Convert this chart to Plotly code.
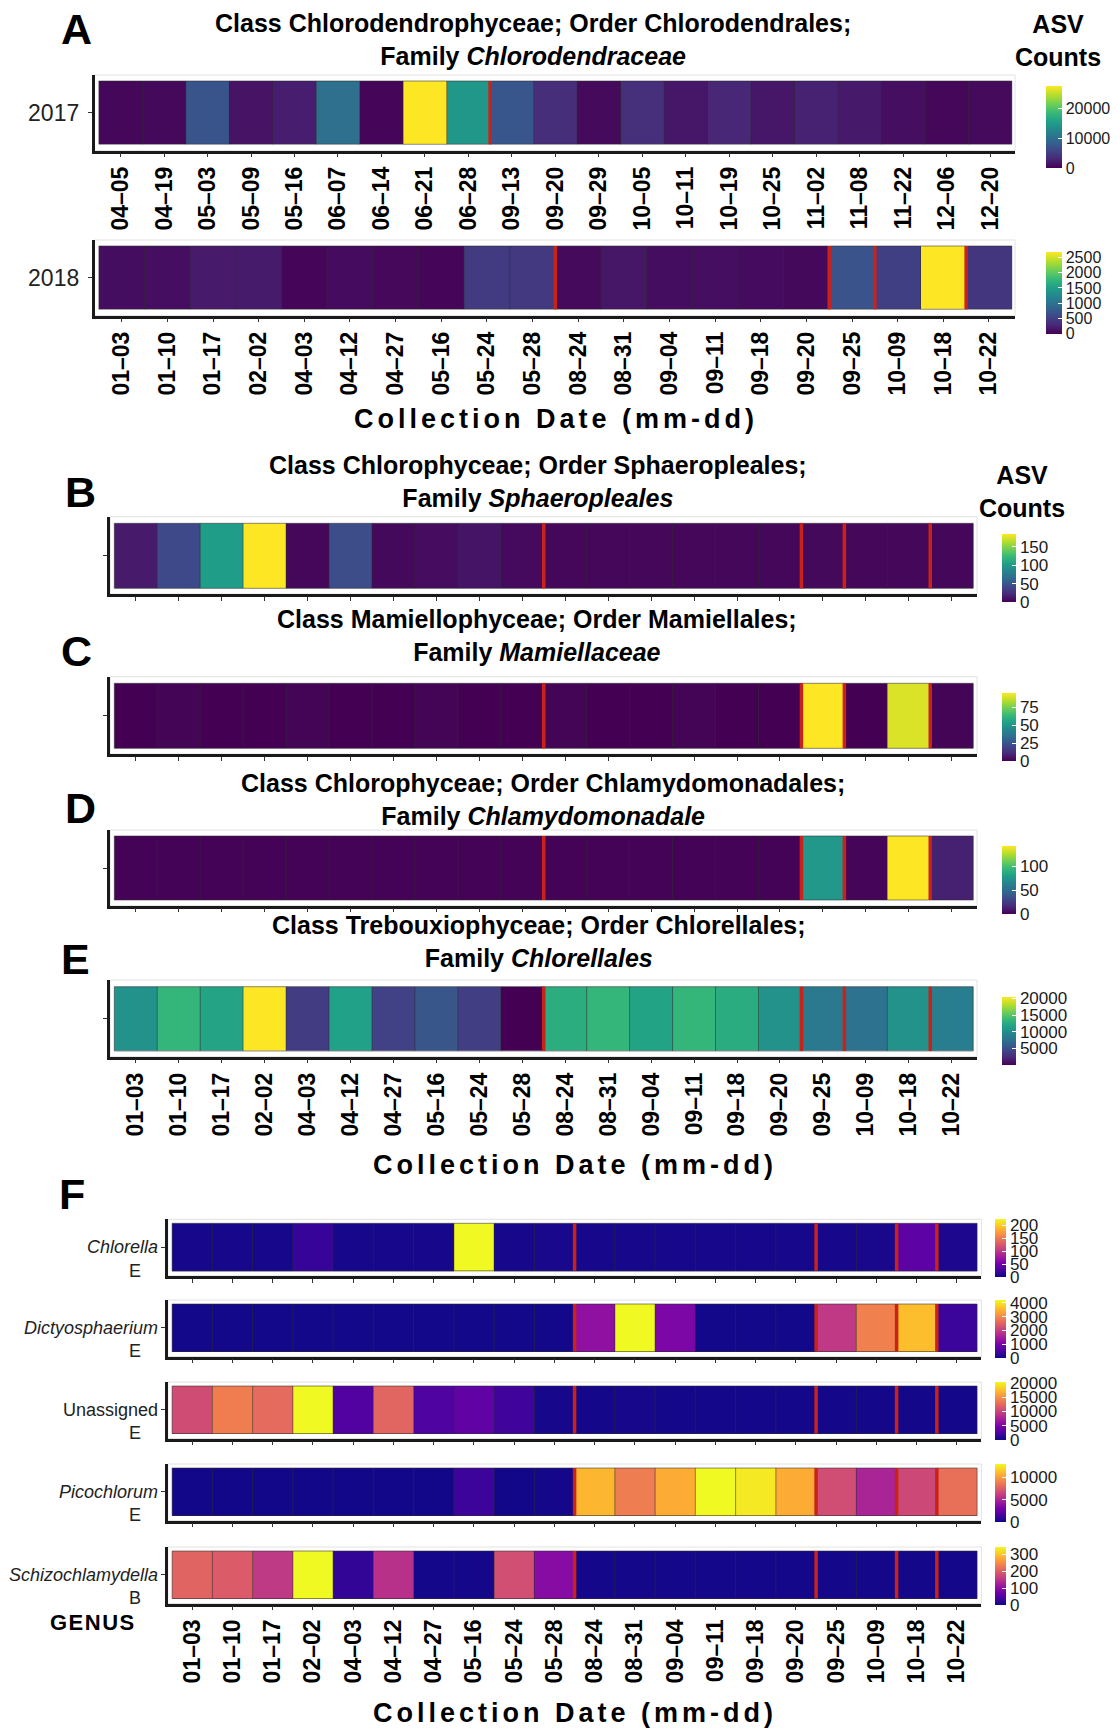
import plotly.graph_objects as go

W, H = 1120, 1730
FONT = "Liberation Sans, Arial, Helvetica, sans-serif"

# ---- sampling dates (mm-dd) ----
dates_2017 = ["04–05", "04–19", "05–03", "05–09", "05–16", "06–07", "06–14",
              "06–21", "06–28", "09–13", "09–20", "09–29", "10–05", "10–11",
              "10–19", "10–25", "11–02", "11–08", "11–22", "12–06", "12–20"]
dates_2018 = ["01–03", "01–10", "01–17", "02–02", "04–03", "04–12", "04–27",
              "05–16", "05–24", "05–28", "08–24", "08–31", "09–04", "09–11",
              "09–18", "09–20", "09–25", "10–09", "10–18", "10–22"]

# ---- ASV counts per sample ----
chlorodendraceae_2017 = [500, 650, 7200, 1400, 2300, 10100, 400, 27400, 14500, 7400,
                         3600, 700, 3800, 1700, 3000, 1700, 2500, 1900, 1000, 500, 700]
chlorodendraceae_2018 = [90, 100, 190, 200, 40, 80, 50, 40, 470, 450,
                         70, 160, 90, 100, 80, 60, 700, 510, 2690, 420]
sphaeropleales = [13, 41, 102, 185, 3, 44, 4, 6, 10, 5,
                  3, 3, 3, 3, 3, 3, 4, 3, 3, 3]
mamiellaceae = [0, 1, 0, 0, 1, 0, 0, 1, 0, 0,
                1, 0, 0, 1, 0, 0, 94, 0, 89, 1]
chlamydomonadales = [1, 1, 1, 1, 1, 1, 1, 1, 1, 1,
                     1, 1, 1, 1, 1, 1, 76, 2, 143, 13]
chlorellales = [10500, 13600, 12000, 20500, 3800, 11700, 4200, 5600, 3900, 150,
                12800, 13600, 11900, 13600, 12700, 10450, 8400, 7800, 10500, 8800]

genus_names = ["Chlorella", "Dictyosphaerium", "Unassigned", "Picochlorum", "Schizochlamydella"]
genus_panels = ["E", "E", "E", "E", "B"]
genus_chlorella = [4, 4, 4, 18, 4, 4, 4, 223, 4, 5, 4, 4, 4, 4, 4, 4, 4, 5, 38, 7]
genus_dictyosphaerium = [40, 40, 40, 40, 40, 40, 40, 40, 40, 40,
                         1260, 4200, 1050, 40, 40, 40, 1900, 2900, 3600, 380]
genus_unassigned = [10500, 13800, 12600, 20300, 2850, 12200, 2700, 3650, 2000, 400,
                    300, 350, 300, 300, 300, 300, 300, 300, 300, 300]
genus_picochlorum = [150, 150, 150, 150, 150, 150, 150, 1200, 150, 200,
                     10900, 8800, 10500, 13000, 12500, 10500, 6800, 4900, 6600, 8300]
genus_schizochlamydella = [205, 195, 155, 342, 25, 145, 5, 5, 180, 95,
                           5, 5, 5, 5, 5, 5, 5, 5, 5, 5]

# samples after which a sampling gap occurs (drawn as red rules)
breaks_2017 = ["06–28"]
breaks_2018 = ["05–28", "09–20", "09–25", "10–18"]
breaks_genus = ["05–28", "09–20", "10–09", "10–18"]

# colour-bar breaks
ticks_a17 = [0, 10000, 20000]
ticks_a18 = [0, 500, 1000, 1500, 2000, 2500]
ticks_b = [0, 50, 100, 150]
ticks_c = [0, 25, 50, 75]
ticks_d = [0, 50, 100]
ticks_e = [5000, 10000, 15000, 20000]
ticks_genus = [[0, 50, 100, 150, 200], [0, 1000, 2000, 3000, 4000],
               [0, 5000, 10000, 15000, 20000], [0, 5000, 10000], [0, 100, 200, 300]]

fig = go.Figure()
shapes = []
annotations = []
axis_count = [0]


def px_x(v):
    return v / W


def px_y(v):
    return 1 - v / H


def add_strip(labels, values, colorscale, frame, bar, bar_ticks, y_label="",
              show_xlabels=False, breaks=(), zmin=0, cb_font=17, cb_pad=0):
    axis_count[0] += 1
    k = axis_count[0]
    xname = "x" if k == 1 else f"x{k}"
    yname = "y" if k == 1 else f"y{k}"
    n = len(labels)
    axL, bgR, bgT, axB, tL, tR, tT, tB = frame
    tw = (tR - tL) / n
    th = tB - tT
    bx0, by0, bx1, by1 = bar

    fig.add_trace(go.Heatmap(
        z=[values], x=list(range(n)), y=[0],
        colorscale=colorscale, zmin=zmin, zmax=max(values),
        xaxis=xname, yaxis=yname, hoverinfo="skip",
        colorbar=dict(
            x=px_x(bx0), xanchor="left", xpad=cb_pad,
            y=px_y(by0), yanchor="top", ypad=0,
            len=by1 - by0, lenmode="pixels",
            thickness=bx1 - bx0, thicknessmode="pixels",
            outlinewidth=0, tickmode="array",
            tickvals=bar_ticks, ticktext=[str(t) for t in bar_ticks],
            ticks="inside", ticklen=4, tickcolor="white", tickwidth=1,
            tickfont=dict(family=FONT, size=cb_font, color="#1a1a1a"),
        ),
    ))

    xr = [-0.5 - (tL - axL) / tw, n - 0.5 + (bgR - tR) / tw]
    yr = [-0.5 - (axB - tB) / th, 0.5 + (tT - bgT) / th]
    fig.update_layout(**{
        ("xaxis" if k == 1 else f"xaxis{k}"): dict(
            domain=[px_x(axL), px_x(bgR)], range=xr, anchor=yname,
            tickmode="array", tickvals=list(range(n)),
            ticktext=labels if show_xlabels else [""] * n,
            tickangle=-90, ticks="outside", ticklen=4, tickwidth=1.2,
            tickcolor="#333333", showline=True, linecolor="#1a1a1a",
            linewidth=2.5, showgrid=False, zeroline=False, fixedrange=True,
            tickfont=dict(family=FONT, size=23, color="black", weight="bold"),
        ),
        ("yaxis" if k == 1 else f"yaxis{k}"): dict(
            domain=[px_y(axB), px_y(bgT)], range=yr, anchor=xname,
            tickmode="array", tickvals=[0], ticktext=[y_label],
            ticks="outside", ticklen=4, tickwidth=1.2, tickcolor="#333333",
            showline=True, linecolor="#1a1a1a", linewidth=2.5,
            showgrid=False, zeroline=False, fixedrange=True,
            ticklabelstandoff=4,
            tickfont=dict(family=FONT, size=23, color="#222222"),
        ),
    })

    # light panel frame
    shapes.append(dict(type="rect", xref=f"{xname} domain", yref=f"{yname} domain",
                       x0=0, x1=1, y0=0, y1=1, layer="below",
                       line=dict(color="#e2e2e2", width=1)))
    # tile outlines
    edge = dict(color="rgba(45,45,45,0.55)", width=1)
    for i in range(n + 1):
        shapes.append(dict(type="line", xref=xname, yref=yname,
                           x0=i - 0.5, x1=i - 0.5, y0=-0.5, y1=0.5, line=edge))
    for yy in (-0.5, 0.5):
        shapes.append(dict(type="line", xref=xname, yref=yname,
                           x0=-0.5, x1=n - 0.5, y0=yy, y1=yy, line=edge))
    # sampling-gap rules
    for b in breaks:
        xb = labels.index(b) + 0.5
        shapes.append(dict(type="line", xref=xname, yref=yname,
                           x0=xb, x1=xb, y0=-0.5, y1=0.5,
                           line=dict(color="#c8231b", width=3.5)))


def text(x, y, s, size, bold=False, anchor="center", color="black", family=FONT):
    annotations.append(dict(
        x=px_x(x), y=px_y(y), xref="paper", yref="paper", text=s,
        showarrow=False, xanchor=anchor, yanchor="middle", align=anchor if anchor != "center" else "center",
        font=dict(family=family, size=size, color=color, weight="bold" if bold else "normal"),
    ))


# ---------------- Panel A ----------------
xA = (94.6, 1015, 98.9, 1011.8)
add_strip(dates_2017, chlorodendraceae_2017, "Viridis",
          (xA[0], xA[1], 75, 150.7, xA[2], xA[3], 81, 144.3),
          (1045.7, 86, 1061.8, 168.3), ticks_a17, y_label="2017",
          show_xlabels=True, breaks=breaks_2017, cb_font=16)
add_strip(dates_2018, chlorodendraceae_2018, "Viridis",
          (xA[0], xA[1], 240, 315.7, xA[2], xA[3], 246, 309.3),
          (1045.7, 251.7, 1061.8, 333.3), ticks_a18, y_label="2018",
          show_xlabels=True, breaks=breaks_2018, cb_font=16)

# ---------------- Panels B-E ----------------
xB = (110, 977, 114.3, 973.2)
bar_x = (1001.8, 1015.4)
rows_be = [
    (sphaeropleales, 516.7, 594, 523.3, 588.3, (534, 601.7), ticks_b, False),
    (mamiellaceae, 676.7, 754, 683.3, 748.3, (693.3, 761), ticks_c, False),
    (chlamydomonadales, 830, 905.7, 836, 900, (846, 914), ticks_d, False),
    (chlorellales, 980, 1056.7, 986.7, 1051, (996.7, 1065), ticks_e, True),
]
for vals, bgT, axB, tT, tB, (b0, b1), tks, lab in rows_be:
    add_strip(dates_2018, vals, "Viridis",
              (xB[0], xB[1], bgT, axB, xB[2], xB[3], tT, tB),
              (bar_x[0], b0, bar_x[1], b1), tks, show_xlabels=lab,
              breaks=breaks_2018, zmin=min(vals) if vals is chlorellales else 0)

# ---------------- Panel F ----------------
xF = (167.9, 981.4, 172.1, 977.1)
genus_values = [genus_chlorella, genus_dictyosphaerium, genus_unassigned,
                genus_picochlorum, genus_schizochlamydella]
genus_tops = [1223.3, 1304, 1386, 1468, 1551]
tile_h = 47.5
for i, vals in enumerate(genus_values):
    tT = genus_tops[i]
    tB = tT + tile_h
    add_strip(dates_2018, vals, "Plasma",
              (xF[0], xF[1], tT - 4, tB + 5, xF[2], xF[3], tT, tB),
              (995, tT - 4, 1006.4, tB + 6), ticks_genus[i],
              show_xlabels=(i == len(genus_values) - 1),
              breaks=breaks_genus, cb_font=17)
    yc = (tT + tB) / 2
    name = genus_names[i] if genus_names[i] == "Unassigned" else f"<i>{genus_names[i]}</i>"
    text(160, yc, name, 18, anchor="right", color="#222222")
    text(143, yc + 23.5, genus_panels[i], 18, anchor="right", color="#222222")

# ---------------- text ----------------
for letter, x, y in [("A", 76, 29), ("B", 80, 492), ("C", 76, 651),
                     ("D", 80, 808), ("E", 75, 959), ("F", 72, 1194)]:
    text(x, y, letter, 43, bold=True)

titles = [
    (533, 40, "Class Chlorodendrophyceae; Order Chlorodendrales;<br>Family <i>Chlorodendraceae</i>"),
    (538, 481.5, "Class Chlorophyceae; Order Sphaeropleales;<br>Family <i>Sphaeropleales</i>"),
    (537, 635, "Class Mamiellophyceae; Order Mamiellales;<br>Family <i>Mamiellaceae</i>"),
    (543, 799.5, "Class Chlorophyceae; Order Chlamydomonadales;<br>Family <i>Chlamydomonadale</i>"),
    (539, 941.5, "Class Trebouxiophyceae; Order Chlorellales;<br>Family <i>Chlorellales</i>"),
]
for x, y, s in titles:
    text(x, y, s, 25, bold=True)

text(1058, 40.5, "ASV<br>Counts", 25, bold=True)
text(1022, 491.7, "ASV<br>Counts", 25, bold=True)

xtitle = '<span style="letter-spacing:4px">Collection Date (mm-dd)</span>'
for x, y in [(556, 418.5), (575, 1165), (575, 1713)]:
    text(x, y, xtitle, 27, bold=True)

text(93, 1622, '<span style="letter-spacing:1.5px">GENUS</span>', 22, bold=True)

fig.update_layout(
    width=W, height=H, margin=dict(l=0, r=0, t=0, b=0),
    paper_bgcolor="white", plot_bgcolor="white",
    font=dict(family=FONT, color="black"),
    showlegend=False, shapes=shapes, annotations=annotations,
)

fig.write_html("out.html")
